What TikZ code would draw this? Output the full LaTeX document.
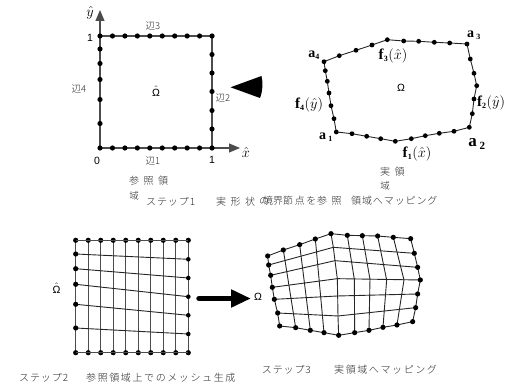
\documentclass[tikz,border=0pt]{standalone}
\usepackage{fontspec}
\usepackage{amsmath}
\newfontfamily\jp{Noto Sans CJK JP Light}
\newfontfamily\jpm[LetterSpace=9]{Noto Sans CJK JP Light}
\newfontfamily\jpw[LetterSpace=16]{Noto Sans CJK JP Light}
\newfontfamily\jpx[LetterSpace=45]{Noto Sans CJK JP Light}
\newfontfamily\sansf{Liberation Sans}
\newfontfamily\seriff{Liberation Serif}
\newcommand{\Om}{\text{\sansf Ω}}
\newcommand{\sbn}[1]{\text{\fontsize{8}{8}\selectfont\textbf{#1}}}
\usetikzlibrary{arrows.meta}
\tikzset{
 dot/.style={circle,fill=black,inner sep=0pt,minimum size=5.2pt},
 lab/.style={inner sep=0pt,text=black!85,font=\jp\fontsize{9.5}{10}\selectfont},
 labn/.style={inner sep=0pt,anchor=west,text=black!85,font=\jp\fontsize{10}{11}\selectfont},
 labm/.style={inner sep=0pt,anchor=west,text=black!85,font=\jpm\fontsize{10}{11}\selectfont},
 labw/.style={inner sep=0pt,anchor=west,text=black!85,font=\jpw\fontsize{10}{11}\selectfont},
 labx/.style={inner sep=0pt,anchor=west,text=black!85,font=\jpx\fontsize{10}{11}\selectfont},
 num/.style={inner sep=0pt,font=\sansf\fontsize{10.5}{11}\selectfont},
 mathl/.style={inner sep=0pt,font=\seriff\fontsize{15}{16}\selectfont},
 edge/.style={draw=black!70,line width=1.2pt},
 thin/.style={draw=black!85,line width=.9pt}
}
\begin{document}
\begin{tikzpicture}[x=1pt,y=-1pt]
\useasboundingbox (0,0) rectangle (507,387);
% reference square
\coordinate (o) at (100,148);
\coordinate (xe) at (240,148);
\coordinate (ye) at (100,10);
\coordinate (c) at (212,36);
\coordinate (tl) at (100,36);
\coordinate (br) at (212,148);
\draw[edge] (tl)--(c)--(br);
\draw[edge,-{Triangle[length=11pt,width=9pt]}] (o)--(xe);
\draw[edge,-{Triangle[length=11pt,width=9pt]}] (o)--(ye);
\foreach \i in {0,...,9}{
 \node[dot] at ({100+\i*12.45},36) {};
 \node[dot] at ({100+\i*12.45},148) {};
}
\foreach \y in {49,63.5,79.5,99.5,123.5}{\node[dot] at (100,\y) {};}
\foreach \y in {54.5,73,91.5,110.5,129}{\node[dot] at (212,\y) {};}
\node[mathl] (yh) at (90,12.5) {$\hat{y}$};
\node[mathl] (xh) at (246,153) {$\hat{x}$};
\node[num] (n1) at (90,38) {1};
\node[num] (n0) at (97,161) {0};
\node[num] (n2) at (212,160) {1};
\node[lab] (e3) at (153,26) {辺3};
\node[lab] (e1) at (153,161) {辺1};
\node[lab] (e4) at (79,89) {辺4};
\node[lab] (e2) at (223,98) {辺2};
\node[num] (om) at (156,91) {$\hat{\Om}$};
\node[labx] (r1) at (129,181) {参照領};
\node[lab] (r2) at (134,196) {域};
\node[labm] (s1) at (146,201.5) {ステップ1};
\node[labx] (s1b) at (216,201.5) {実形状};
\node[labn] (s1c) at (259,201) {の};
\node[labn] (s1d) at (263,201) {境界};
\node[labw] (s1e) at (283,201) {節点を};
\node[labx] (s1f) at (317,201) {参照};
\node[labm] (s1g) at (351,201) {領域へマッピング};
% black arrow head
\fill (230.5,87.3) -- (261.5,76) .. controls (263,83) and (263,90) .. (260,98) -- cycle;
% real domain
\draw[thin] (324,61.7)--(339.3,55.7)--(356,50.3)--(372,45)--(387.3,39.7)--(403.7,41)--(418.7,41.3)--(434.3,42.3)--(449.7,43)--(467,44)
 --(470.3,59)--(474,73.3)--(476.7,85.7)--(474,99)--(472.3,113.7)--(469.3,127.3)
 --(454,131.3)--(439.3,133.3)--(425.3,135.7)--(411.3,138.7)--(395.3,141.3)--(380.7,138.7)--(366.7,136.3)--(352,133.7)--(336.3,132)
 --(334,118.7)--(331,105.7)--(329,93)--(327.3,81.3)--(325.3,70.7)--cycle;
\foreach \p in {(339.3,55.7),(356,50.3),(372,45),(387.3,39.7),(403.7,41),(418.7,41.3),(434.3,42.3),(449.7,43),(467,44),
 (470.3,59),(474,73.3),(476.7,85.7),(474,99),(472.3,113.7),(469.3,127.3),
 (454,131.3),(439.3,133.3),(425.3,135.7),(411.3,138.7),(395.3,141.3),(380.7,138.7),(366.7,136.3),(352,133.7),(336.3,132),
 (334,118.7),(331,105.7),(329,93),(327.3,81.3),(325.3,70.7),(324,61.7)}
 {\node[dot,minimum size=4.8pt] at \p {};}
\node[mathl,font=\seriff\fontsize{14}{15}\selectfont] (a4) at (314,55.5) {\textbf{a}$_{\sbn{4}}$};
\node[mathl,font=\seriff\fontsize{14}{15}\selectfont] (a3) at (474,35) {\textbf{a}\,$_{\sbn{3}}$};
\node[mathl,font=\seriff\fontsize{14}{15}\selectfont] (a1) at (326,137) {\textbf{a}\,$_{\sbn{1}}$};
\node[mathl,font=\seriff\fontsize{17}{18}\selectfont] (a2) at (477,144) {\textbf{a}\,$_{\text{\fontsize{11}{11}\selectfont\textbf{2}}}$};
\node[mathl] (f3) at (393,56) {\textbf{f}$_{\sbn{3}}(\hat{x})$};
\node[mathl] (f4) at (309,104.5) {\textbf{f}$_{\sbn{4}}(\hat{y})$};
\node[mathl] (f2) at (491,102.5) {\textbf{f}$_{\sbn{2}}(\hat{y})$};
\node[mathl] (f1) at (417,153.5) {\textbf{f}$_{\sbn{1}}(\hat{x})$};
\node[num] (omr) at (401,88) {$\Om$};
\node[labx] (q1) at (380,172) {実領};
\node[lab] (q2) at (385,186) {域};
% mesh on reference
\foreach \i in {0,...,9}{
 \draw[edge] ({75.7+\i*12.51},240.3)--({75.7+\i*12.51},352.7);
 \node[dot] at ({75.7+\i*12.51},240.3) {};
 \node[dot] at ({75.7+\i*12.51},352.7) {};
}
\draw[edge] (75.7,240.3)--(188.3,240.3) (75.7,352.7)--(188.3,352.7);
\foreach \a/\b in {254/259.3,268.7/278,284.3/296.7,304.3/315.3,328/334}{
 \draw[thin] (75.7,\a)--(188.3,\b);
 \node[dot] at (75.7,\a) {};
 \node[dot,minimum size=4.6pt] at (188.3,\b) {};
}
\node[num] (omb) at (56.5,288) {$\hat{\Om}$};
\coordinate (as) at (199,298.5);
\coordinate (ae) at (251,298.5);
\draw[line width=5.5pt,line cap=round,-{Triangle[length=20pt,width=17pt]}] (as)--(ae);
\node[num] (omc) at (258,297) {$\Om$};
\node[labm] (s2) at (19,377.5) {ステップ2};
\node[labw] (s2b) at (86,377.5) {参照領域上でのメッシュ生成};
\node[labm] (s3) at (261.7,369.5) {ステップ3};
\node[labw] (s3b) at (334,369.5) {実領域へマッピング};
% mapped mesh (zoom coordinates)
\begin{scope}[shift={(250,210)},x=.3333pt,y=-.3333pt]
\draw[thin] (56,165)--(250,112)--(493,130);
\draw[thin] (62,196)--(255,152)--(503,172);
\draw[thin] (67,232)--(262,206)--(511,210);
\draw[thin] (73,268)--(263,258)--(503,252);
\draw[thin] (83,309)--(264,318)--(497,293);
\draw[thin] (243,71)--(250,112)--(255,152)--(262,206)--(263,258)--(264,318)--(266,376);
\draw[thin] (292,76)--(313,208)--(314,368);
\draw[thin] (337,77)--(360,208)--(357,361);
\draw[thin] (383,78)--(410,210)--(399,352);
\draw[thin] (430,82)--(462,210)--(441,345);
\draw[thin] (100,120)--(137,353);
\draw[thin] (149,104)--(181,361);
\draw[thin] (196,87)--(222,368);
\draw[thin] (53,138)--(100,120)--(149,104)--(196,87)--(243,71)--(292,76)--(337,77)--(383,78)--(430,82)--(482,86)
 --(493,130)--(503,172)--(511,210)--(503,252)--(497,293)--(488,335)
 --(441,345)--(399,352)--(357,361)--(314,368)--(266,376)--(222,368)--(181,361)--(137,353)--(89,348)
 --(83,309)--(73,268)--(67,232)--(62,196)--(56,165)--cycle;
\foreach \p in {(53,138),(100,120),(149,104),(196,87),(243,71),(292,76),(337,77),(383,78),(430,82),(482,86),
 (493,130),(503,172),(511,210),(503,252),(497,293),(488,335),
 (441,345),(399,352),(357,361),(314,368),(266,376),(222,368),(181,361),(137,353),(89,348),
 (83,309),(73,268),(67,232),(62,196),(56,165)}
 {\node[dot] at \p {};}
\end{scope}
\end{tikzpicture}
\end{document}
